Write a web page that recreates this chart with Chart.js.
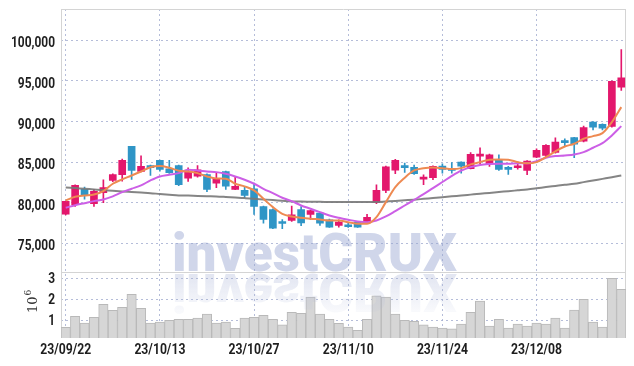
<!DOCTYPE html>
<html>
<head>
<meta charset="utf-8">
<script src="https://cdn.jsdelivr.net/npm/chart.js@4.4.0/dist/chart.umd.min.js"></script>
<style>
  html, body { margin: 0; padding: 0; background: #fff; }
  #wrap { width: 634px; height: 366px; }
</style>
</head>
<body>
<div id="wrap"><canvas id="chartCanvas" width="634" height="366"></canvas></div>
<script>
// trading days shown on the x axis
const dates = [
  '23/09/22','23/09/25','23/09/26','23/09/27','23/10/04','23/10/05','23/10/06','23/10/10','23/10/11','23/10/12',
  '23/10/13','23/10/16','23/10/17','23/10/18','23/10/19','23/10/20','23/10/23','23/10/24','23/10/25','23/10/26',
  '23/10/27','23/10/30','23/10/31','23/11/01','23/11/02','23/11/03','23/11/06','23/11/07','23/11/08','23/11/09',
  '23/11/10','23/11/13','23/11/14','23/11/15','23/11/16','23/11/17','23/11/20','23/11/21','23/11/22','23/11/23',
  '23/11/24','23/11/27','23/11/28','23/11/29','23/11/30','23/12/01','23/12/04','23/12/05','23/12/06','23/12/07',
  '23/12/08','23/12/11','23/12/12','23/12/13','23/12/14','23/12/15','23/12/18','23/12/19','23/12/20','23/12/21'
];

const openPrices = [
  78600, 79750, 81640, 79880, 81230, 82750, 83450, 86930, 83850, 84590,
  85210, 84190, 84590, 83030, 83280, 83480, 82410, 83850, 81640, 81520,
  81720, 79540, 79170, 77500, 77820, 79170, 78560, 78720, 77910, 77200,
  77100, 77610, 77530, 80040, 81520, 84010, 84590, 84350, 82910, 83080,
  84510, 84190, 85000, 84190, 85740, 84800, 85300, 84150, 84310, 83980,
  85620, 85830, 86200, 87450, 88010, 87590, 89930, 89640, 89400, 94240
];
const highPrices = [
  80200, 82200, 81920, 81640, 82830, 83550, 85370, 86950, 85790, 84650,
  85250, 85210, 84650, 84310, 84590, 83550, 83650, 83900, 83150, 81920,
  82410, 79600, 79250, 77940, 79580, 79530, 79100, 78800, 78000, 77910,
  77500, 77650, 78560, 82220, 84500, 85330, 84880, 84630, 83450, 84550,
  84800, 84930, 85050, 86160, 86770, 86000, 85910, 84470, 85050, 85200,
  86650, 87150, 88000, 87880, 88050, 89430, 90000, 89700, 95000, 98840
];
const lowPrices = [
  78500, 79550, 80440, 79540, 80000, 82600, 82660, 82870, 83800, 83360,
  83900, 83600, 82100, 82620, 83150, 81350, 81850, 81640, 81600, 80620,
  78560, 77490, 76800, 76800, 77700, 77170, 77940, 77200, 76950, 77000,
  76950, 76950, 77410, 79880, 81230, 83590, 83730, 83500, 82220, 82830,
  83650, 83650, 83650, 84150, 84800, 84470, 83980, 83480, 84140, 83450,
  85550, 85540, 86100, 86930, 85540, 87500, 88980, 88980, 89300, 93830
];
const closePrices = [
  80160, 82130, 80900, 81390, 81880, 83480, 85210, 83980, 84470, 84310,
  84100, 83690, 82220, 83770, 84060, 81640, 82990, 82040, 82010, 80900,
  79540, 77940, 76870, 77450, 78520, 77530, 79040, 77490, 77000, 77610,
  77050, 77000, 78190, 81520, 84430, 85210, 84310, 83570, 83150, 84470,
  84100, 83980, 84510, 85950, 85990, 85910, 84100, 84100, 84550, 85120,
  86440, 87060, 87460, 87400, 87220, 89240, 89310, 89190, 94940, 95390
];

// volume in millions of shares
const volumes = [
  0.67, 1.19, 0.87, 1.14, 1.76, 1.48, 1.62, 2.24, 1.57, 0.87,
  0.92, 1.00, 1.05, 1.05, 1.10, 1.29, 0.87, 0.92, 0.62, 1.10,
  1.14, 1.24, 1.05, 0.78, 1.38, 1.33, 2.10, 1.30, 1.05, 0.86,
  0.68, 0.52, 1.05, 2.16, 2.10, 1.30, 1.00, 0.95, 0.78, 0.68,
  0.63, 0.59, 0.82, 1.38, 1.92, 0.73, 1.05, 0.63, 0.82, 0.73,
  0.87, 0.82, 1.10, 0.63, 1.49, 2.00, 0.92, 0.68, 3.00, 2.48
];

// moving averages
const maShort = [
  80280, 80740, 80900, 81020, 81430, 82340, 82870, 83350, 83850, 84380,
  84510, 84310, 83950, 83850, 83650, 83240, 82990, 82960, 82340, 82010,
  81520, 80490, 79460, 78640, 78310, 78150, 78030, 77940, 77820, 77820,
  77610, 77410, 77410, 78230, 80080, 81920, 83080, 83980, 84260, 84350,
  84260, 84140, 84260, 84720, 85000, 85300, 85330, 85300, 85000, 84850,
  85000, 85620, 86320, 86930, 87260, 87880, 88200, 88570, 89930, 91770
];
const maMid = [
  79380, 79700, 79950, 80200, 80400, 80780, 81300, 81720, 82130, 82750,
  83240, 83450, 83650, 84050, 83980, 83850, 83770, 83570, 83240, 82830,
  82340, 81720, 81180, 80620, 80200, 79660, 79260, 78840, 78440, 78150,
  77910, 77700, 77610, 77820, 78310, 78970, 79660, 80350, 81050, 81800,
  82550, 83300, 83950, 84380, 84650, 84760, 84800, 84800, 84850, 84850,
  85120, 85540, 85740, 85830, 85950, 86230, 86770, 87340, 88290, 89430
];
const maLong = [
  81880, 81800, 81720, 81640, 81560, 81470, 81390, 81320, 81250, 81180,
  81080, 80990, 80900, 80880, 80830, 80800, 80780, 80720, 80650, 80570,
  80490, 80410, 80330, 80240, 80160, 80150, 80130, 80110, 80100, 80080,
  80080, 80080, 80080, 80080, 80150, 80220, 80300, 80380, 80480, 80580,
  80680, 80790, 80890, 81000, 81110, 81210, 81320, 81420, 81530, 81640,
  81780, 81930, 82070, 82210, 82340, 82540, 82740, 82940, 83140, 83350
];

const priceTicks = [75000, 80000, 85000, 90000, 95000, 100000];
const volumeTicks = [1, 2, 3];
const labelEvery = 10;
const markText = 'investCRUX';

const UP = '#e3176c';
const DOWN = '#2f95c6';
const GRID = 'rgba(168,178,210,0.85)';
const FRAME = '#d4d4d4';
const LABEL = '#1e1e1e';
const LABEL_FONT = 'bold 15px Roboto, "DejaVu Sans", sans-serif';

const candleColors = openPrices.map((o, i) => closePrices[i] >= o ? UP : DOWN);

// draw text squeezed horizontally to mimic the condensed face of the original
function squeezed(ctx, text, x, y, sx, align) {
  ctx.save();
  ctx.translate(x, y);
  ctx.scale(sx, 1);
  ctx.textAlign = align;
  ctx.fillText(text, 0, 0);
  ctx.restore();
}

// frame lines, axis labels, volume unit label and the watermark
const decorPlugin = {
  id: 'decor',
  beforeDatasetsDraw(chart) {
    const ctx = chart.ctx;
    const area = chart.chartArea;
    const yv = chart.scales.yv;
    ctx.save();
    ctx.strokeStyle = FRAME;
    ctx.lineWidth = 1;
    ctx.beginPath();
    ctx.moveTo(area.left, area.top + 0.5);
    ctx.lineTo(area.right, area.top + 0.5);
    ctx.moveTo(area.left + 0.5, area.top);
    ctx.lineTo(area.left + 0.5, area.bottom);
    ctx.moveTo(area.right - 0.5, area.top);
    ctx.lineTo(area.right - 0.5, area.bottom);
    ctx.moveTo(area.left, Math.round(yv.top) + 0.5);
    ctx.lineTo(area.right, Math.round(yv.top) + 0.5);
    ctx.stroke();

    // 10^6 unit label, rotated
    ctx.fillStyle = '#333';
    ctx.translate(37, 313);
    ctx.rotate(-Math.PI / 2);
    ctx.font = '13px "DejaVu Serif", serif';
    ctx.textBaseline = 'alphabetic';
    ctx.fillText('10', 0, 0);
    const w = ctx.measureText('10').width;
    ctx.font = '9px "DejaVu Serif", serif';
    ctx.fillText('6', w + 1, -6);
    ctx.restore();
  },
  afterDatasetsDraw(chart) {
    const ctx = chart.ctx;
    ctx.save();
    ctx.font = '900 54px Roboto, "DejaVu Sans", sans-serif';
    ctx.textBaseline = 'alphabetic';
    const w = ctx.measureText(markText).width;
    ctx.translate(172, 271);
    ctx.scale(285 / w, 1);
    ctx.fillStyle = 'rgba(150,164,208,0.45)';
    ctx.fillText(markText, 0, 0);
    // mirrored copy under the baseline
    ctx.translate(0, 3);
    ctx.scale(1, -1);
    const g = ctx.createLinearGradient(0, 0, 0, -44);
    g.addColorStop(0, 'rgba(170,180,215,0.34)');
    g.addColorStop(1, 'rgba(170,180,215,0.03)');
    ctx.fillStyle = g;
    ctx.fillText(markText, 0, 0);
    ctx.restore();
  },
  afterDraw(chart) {
    const ctx = chart.ctx;
    const { x, y, yv } = chart.scales;
    ctx.save();
    ctx.fillStyle = LABEL;
    ctx.textBaseline = 'alphabetic';
    ctx.font = LABEL_FONT;
    const sy = 44 / ctx.measureText('100,000').width;
    priceTicks.forEach(v => {
      squeezed(ctx, v.toLocaleString('en-US'), 55, y.getPixelForValue(v) + 7, sy, 'right');
    });
    volumeTicks.forEach(v => {
      squeezed(ctx, String(v), 55, yv.getPixelForValue(v) + 5, sy, 'right');
    });
    const sx = 51 / ctx.measureText('23/09/22').width;
    dates.forEach((d, i) => {
      if (i % labelEvery === 0) {
        squeezed(ctx, d, x.getPixelForValue(i), 354, sx, 'center');
      }
    });
    ctx.restore();
  }
};

const ctx = document.getElementById('chartCanvas');

new Chart(ctx, {
  type: 'bar',
  data: {
    labels: dates,
    datasets: [
      {
        type: 'line',
        label: 'MA short',
        data: maShort,
        yAxisID: 'y',
        borderColor: '#ee8a52',
        borderWidth: 2,
        pointRadius: 0,
        cubicInterpolationMode: 'monotone',
        order: 0
      },
      {
        type: 'line',
        label: 'MA mid',
        data: maMid,
        yAxisID: 'y',
        borderColor: '#cc5fe6',
        borderWidth: 2,
        pointRadius: 0,
        cubicInterpolationMode: 'monotone',
        order: 1
      },
      {
        type: 'line',
        label: 'MA long',
        data: maLong,
        yAxisID: 'y',
        borderColor: 'rgba(120,120,120,0.9)',
        borderWidth: 2,
        pointRadius: 0,
        cubicInterpolationMode: 'monotone',
        order: 2
      },
      {
        label: 'body',
        data: openPrices.map((o, i) => [o, closePrices[i]]),
        yAxisID: 'y',
        backgroundColor: candleColors,
        borderWidth: 0,
        barThickness: 7,
        minBarLength: 2,
        grouped: false,
        order: 3
      },
      {
        label: 'wick',
        data: lowPrices.map((l, i) => [l, highPrices[i]]),
        yAxisID: 'y',
        backgroundColor: candleColors,
        borderWidth: 0,
        barThickness: 1,
        grouped: false,
        order: 4
      },
      {
        label: 'volume',
        data: volumes,
        yAxisID: 'yv',
        backgroundColor: '#d6d6d6',
        borderColor: '#b9b9b9',
        borderWidth: 1,
        barPercentage: 1,
        categoryPercentage: 1,
        grouped: false,
        order: 5
      }
    ]
  },
  options: {
    responsive: false,
    animation: false,
    devicePixelRatio: 1,
    layout: { padding: { left: 0, right: 8, top: 9, bottom: 0 } },
    plugins: {
      legend: { display: false },
      tooltip: { enabled: false }
    },
    scales: {
      x: {
        offset: true,
        grid: {
          offset: false,
          drawTicks: false,
          color: c => (c.index % labelEvery === 0 ? GRID : 'rgba(0,0,0,0)')
        },
        border: { display: false, dash: [2, 3] },
        ticks: { display: false, autoSkip: false, maxRotation: 0 },
        afterFit: s => { s.height = 28; }
      },
      yv: {
        position: 'left',
        stack: 'panels',
        stackWeight: 1,
        min: 0.157,
        max: 3.29,
        afterBuildTicks: s => { s.ticks = volumeTicks.map(v => ({ value: v })); },
        grid: { color: GRID, drawTicks: false },
        border: { display: false, dash: [2, 3] },
        ticks: { display: false },
        afterFit: s => { s.width = 61; }
      },
      y: {
        position: 'left',
        stack: 'panels',
        stackWeight: 4,
        min: 71450,
        max: 103850,
        afterBuildTicks: s => { s.ticks = priceTicks.map(v => ({ value: v })); },
        grid: { color: GRID, drawTicks: false },
        border: { display: false, dash: [2, 3] },
        ticks: { display: false },
        afterFit: s => { s.width = 61; }
      }
    }
  },
  plugins: [decorPlugin]
});
</script>
</body>
</html>
